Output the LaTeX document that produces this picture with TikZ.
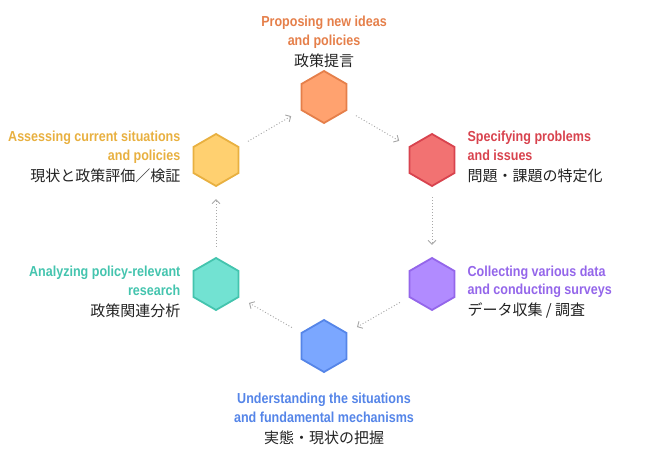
\documentclass[tikz,border=0pt]{standalone}
\usepackage{fontspec}
\setmainfont{Liberation Sans}
\newfontfamily\condfont[FakeStretch=0.865]{Liberation Sans}
\newfontfamily\jpfont{Noto Sans CJK JP}
\usetikzlibrary{shapes.geometric,positioning,arrows.meta}
\usepackage{xcolor}
\definecolor{orgfill}{HTML}{FFA26F}
\definecolor{orgline}{HTML}{E57F4A}
\definecolor{redfill}{HTML}{F27272}
\definecolor{redline}{HTML}{D8434E}
\definecolor{purfill}{HTML}{B18BFF}
\definecolor{purline}{HTML}{9466EA}
\definecolor{blufill}{HTML}{7BA7FF}
\definecolor{bluline}{HTML}{5585E8}
\definecolor{teafill}{HTML}{72E2D2}
\definecolor{tealine}{HTML}{44C4AE}
\definecolor{yelfill}{HTML}{FFD070}
\definecolor{yelline}{HTML}{E8B040}
\definecolor{ink}{HTML}{222222}
\definecolor{flowgray}{HTML}{A8A8A8}
\newcommand{\jp}[1]{{\jpfont\mdseries\fontsize{15}{18}\selectfont\color{ink}#1}}

\begin{document}
\begin{tikzpicture}[x=1pt,y=1pt,
		hexa/.style={regular polygon,regular polygon sides=6,regular polygon rotate=30,
			minimum size=52pt,inner sep=0pt,line width=1.8pt},
		lbl/.style={inner sep=0pt,font=\condfont\bfseries\fontsize{14.5}{18.3}\selectfont},
		flow/.style={draw=flowgray,line width=0.9pt,dash pattern=on 1pt off 2pt,
			shorten <=10pt,shorten >=11pt,-{Straight Barb[length=4pt,width=8pt]}}]
		\useasboundingbox (0,0) rectangle (648,456);
		% hexagons
		\node[hexa,draw=orgline,fill=orgfill] (propose) at (324,359) {};
		\node[hexa,draw=redline,fill=redfill] (specify) at (432,296) {};
		\node[hexa,draw=purline,fill=purfill] (collect) at (432,172) {};
		\node[hexa,draw=bluline,fill=blufill] (understand) at (324,110) {};
		\node[hexa,draw=tealine,fill=teafill] (analyze) at (216,172) {};
		\node[hexa,draw=yelline,fill=yelfill] (assess) at (216,296) {};
		% labels
		\node[lbl,align=center,text=orgline,above=2pt of propose] (proposetxt)
			{Proposing new ideas\\and policies\\[3pt]\jp{政策提言}};
		\node[lbl,align=left,text=redline,right=12pt of specify,yshift=3pt] (specifytxt)
			{Specifying problems\\and issues\\[3pt]\jp{問題・課題の特定化}};
		\node[lbl,align=left,text=purline,right=12pt of collect,yshift=-8pt] (collecttxt)
			{Collecting various data\\and conducting surveys\\[3pt]\jp{データ収集 / 調査}};
		\node[lbl,align=center,text=bluline,below=20pt of understand] (understandtxt)
			{Understanding the situations\\and fundamental mechanisms\\[3pt]\jp{実態・現状の把握}};
		\node[lbl,align=right,text=tealine,left=12pt of analyze,yshift=-8pt] (analyzetxt)
			{Analyzing policy-relevant\\research\\[3pt]\jp{政策関連分析}};
		\node[lbl,align=right,text=yelline,left=12pt of assess,yshift=3pt] (assesstxt)
			{Assessing current situations\\and policies\\[3pt]\jp{現状と政策評価／検証}};
		% cycle
		\draw[flow] (propose) -- (specify);
		\draw[flow,shorten >=12pt] (specify) -- (collect);
		\draw[flow] (collect) -- (understand);
		\draw[flow] (understand) -- (analyze);
		\draw[flow,shorten >=12pt] (analyze) -- (assess);
		\draw[flow] (assess) -- (propose);
\end{tikzpicture}
\end{document}
